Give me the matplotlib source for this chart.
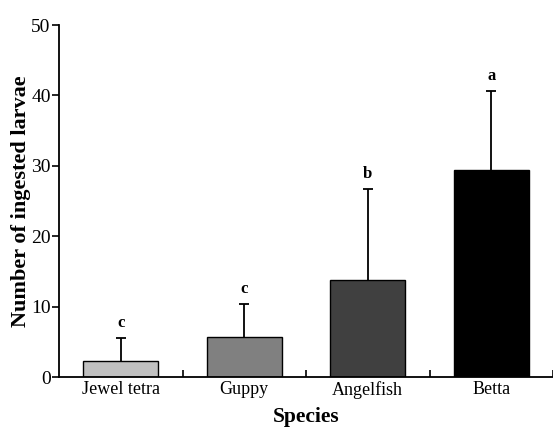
import numpy as np
import matplotlib.pyplot as plt

# Данные
species = ['Jewel tetra', 'Guppy', 'Angelfish', 'Betta']
means = [2.3, 5.7, 13.8, 29.4]
sd_upper = [3.2, 4.7, 12.9, 11.2]
letters = ['c', 'c', 'b', 'a']
colors = ['#c0c0c0', '#808080', '#404040', '#000000']

plt.rcParams['font.family'] = ['Liberation Serif', 'DejaVu Serif']

fig = plt.figure(figsize=(5.53, 4.28), dpi=100)
ax = fig.add_axes([59 / 553, 1 - 377 / 428, (553 - 59) / 553, (377 - 25) / 428])

x = np.arange(len(species))
ax.bar(x, means, width=0.61, color=colors, edgecolor='black', linewidth=1.0, zorder=2)
eb = ax.errorbar(x, means, yerr=[np.zeros(len(means)), sd_upper], fmt='none',
                 ecolor='black', elinewidth=1.3, capsize=3.5, capthick=1.3, zorder=1)
# нижние «шапки» не нужны
eb[1][0].set_visible(False)

for xi, m, e, lab in zip(x, means, sd_upper, letters):
    ax.text(xi, m + e + 1.0, lab, ha='center', va='bottom', fontsize=12, fontweight='bold')

ax.set_xlim(-0.5, len(species) - 0.5)
ax.set_ylim(0, 50)
ax.set_yticks([0, 10, 20, 30, 40, 50])
ax.set_xticks(x)
ax.set_xticklabels(species)
ax.set_xticks(np.arange(len(species)) + 0.5, minor=True)
ax.tick_params(axis='x', which='major', length=0, labelsize=13, pad=3)
ax.tick_params(axis='x', which='minor', direction='in', length=5, width=1.2)
ax.tick_params(axis='y', direction='out', length=5, width=1.2, labelsize=14, pad=1)

for s in ['top', 'right']:
    ax.spines[s].set_visible(False)
for s in ['left', 'bottom']:
    ax.spines[s].set_linewidth(1.3)

ax.set_xlabel('Species', fontsize=15.5, fontweight='bold', labelpad=6)
ax.set_ylabel('Number of ingested larvae', fontsize=16, fontweight='bold', labelpad=0)

fig.savefig('out.png', dpi=100)
